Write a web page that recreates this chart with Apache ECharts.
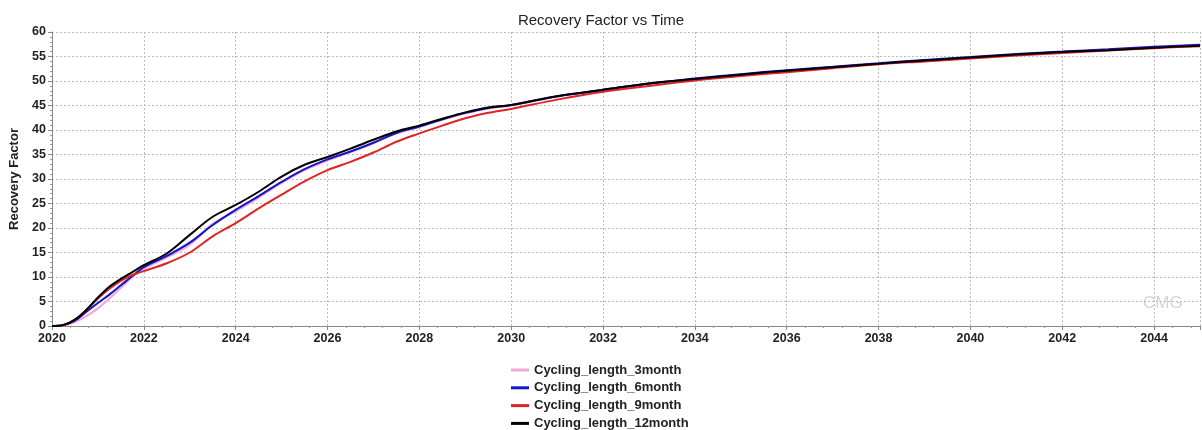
<!DOCTYPE html>
<html>
<head>
<meta charset="utf-8">
<title>Recovery Factor vs Time</title>
<script src="https://cdn.jsdelivr.net/npm/echarts@6/dist/echarts.min.js"></script>
<style>
  html, body { margin: 0; padding: 0; background: #fff; }
  #chart { width: 1202px; height: 430px; }
</style>
</head>
<body>
<div id="chart"></div>
<script>
// time axis (years) shared by all four cases
const years = [
  2020, 2020.25, 2020.5, 2020.75, 2021, 2021.25, 2021.5, 2021.75, 2022,
  2022.5, 2023, 2023.5, 2024, 2024.5, 2025, 2025.5, 2026, 2026.5, 2027, 2027.5,
  2028, 2028.5, 2029, 2029.5, 2030,
  2031, 2032, 2033, 2034, 2035, 2036, 2037, 2038, 2039, 2040, 2041, 2042, 2043, 2044, 2045
]

const rf3month = [
  0, 0.1, 0.8, 2.0, 3.6, 5.6, 7.8, 10.0, 11.7,
  14.0, 16.6, 20.9, 23.4, 26.2, 29.2, 31.8, 33.8, 35.5, 37.3, 39.3,
  40.6, 42.1, 43.4, 44.4, 45.0,
  46.8, 48.1, 49.4, 50.4, 51.3, 52.1, 52.8, 53.5, 54.2, 54.8, 55.4, 55.9, 56.4, 56.9, 57.3
]
const rf6month = [
  0, 0.2, 1.1, 2.9, 4.7, 6.4, 8.3, 10.2, 12.0,
  14.3, 17.0, 20.6, 23.7, 26.5, 29.4, 32.0, 34.0, 35.6, 37.4, 39.4,
  40.7, 42.2, 43.5, 44.5, 45.1,
  46.9, 48.2, 49.5, 50.5, 51.4, 52.2, 52.9, 53.6, 54.3, 54.9, 55.5, 56.0, 56.5, 57.0, 57.4
]
const rf9month = [
  0, 0.2, 1.3, 3.3, 5.6, 7.6, 9.2, 10.4, 11.2,
  12.8, 15.0, 18.3, 21.0, 24.0, 26.8, 29.5, 31.8, 33.5, 35.4, 37.6,
  39.3, 40.9, 42.4, 43.5, 44.3,
  46.2, 47.8, 49.0, 50.1, 51.0, 51.8, 52.6, 53.4, 54.0, 54.6, 55.2, 55.7, 56.2, 56.7, 57.1
]
const rf12month = [
  0, 0.2, 1.3, 3.3, 5.8, 8.0, 9.6, 11.0, 12.4,
  14.8, 18.6, 22.3, 24.7, 27.4, 30.5, 32.9, 34.5, 36.2, 38.0, 39.7,
  40.9, 42.3, 43.6, 44.6, 45.1,
  46.9, 48.2, 49.5, 50.4, 51.3, 52.1, 52.8, 53.5, 54.2, 54.8, 55.4, 55.9, 56.3, 56.8, 57.2
]

const yTicks = { min: 0, max: 60, step: 5 }
const xTicks = { min: 2020, max: 2045, step: 2 }

const cases = [
  { name: 'Cycling_length_3month', values: rf3month, color: '#f3a6d6' },
  { name: 'Cycling_length_6month', values: rf6month, color: '#1414c8' },
  { name: 'Cycling_length_9month', values: rf9month, color: '#e02424' },
  { name: 'Cycling_length_12month', values: rf12month, color: '#000000' }
]

const font = '"Liberation Sans", Arial, sans-serif'
const myChart = echarts.init(document.getElementById('chart'))

const option = {
  backgroundColor: '#fff',
  animation: false,
  title: {
    text: 'Recovery Factor vs Time',
    left: 'center',
    top: 8,
    textStyle: { fontFamily: font, fontSize: 15, fontWeight: 'normal', color: '#222' }
  },
  legend: {
    orient: 'vertical',
    left: 511,
    top: 363,
    height: 80,
    padding: 0,
    itemWidth: 18,
    itemHeight: 3,
    itemGap: 3.8,
    icon: 'rect',
    textStyle: { fontFamily: font, fontSize: 13, fontWeight: 'bold', color: '#222', lineHeight: 14 },
    data: cases.map(c => c.name)
  },
  grid: { left: 52, right: 2, top: 32, bottom: 104, containLabel: false },
  xAxis: {
    type: 'value',
    min: xTicks.min,
    max: xTicks.max,
    interval: xTicks.step,
    axisLine: { show: true, lineStyle: { color: '#888', width: 1 } },
    axisTick: { show: true, inside: false, length: 4, lineStyle: { color: '#888' } },
    minorTick: { show: true, splitNumber: 5, length: 2, lineStyle: { color: '#999' } },
    axisLabel: {
      showMaxLabel: false,
      margin: 6,
      fontFamily: font, fontSize: 12.5, fontWeight: 'bold', color: '#222',
      formatter: v => String(v)
    },
    splitLine: { show: true, lineStyle: { color: '#bdbdbd', type: [2, 2], width: 1 } }
  },
  yAxis: {
    type: 'value',
    name: 'Recovery Factor',
    nameLocation: 'middle',
    nameGap: 30,
    nameRotate: 90,
    nameTextStyle: { fontFamily: font, fontSize: 13, fontWeight: 'bold', color: '#222' },
    min: yTicks.min,
    max: yTicks.max,
    interval: yTicks.step,
    axisLine: { show: true, lineStyle: { color: '#888', width: 1 } },
    axisTick: { show: true, inside: false, length: 4, lineStyle: { color: '#888' } },
    minorTick: { show: true, splitNumber: 5, length: 2, lineStyle: { color: '#999' } },
    axisLabel: { margin: 6, fontFamily: font, fontSize: 12.5, fontWeight: 'bold', color: '#222' },
    splitLine: { show: true, lineStyle: { color: '#bdbdbd', type: [2, 2], width: 1 } }
  },
  graphic: [{
    type: 'text',
    left: 1143,
    top: 295,
    style: { text: 'CMG', fontFamily: font, fontSize: 17, fill: '#d4d4d4' }
  }],
  series: cases.map(c => ({
    name: c.name,
    type: 'line',
    data: years.map((t, i) => [t, c.values[i]]),
    smooth: 0.35,
    showSymbol: false,
    symbol: 'none',
    lineStyle: { color: c.color, width: 2 },
    itemStyle: { color: c.color }
  }))
}

myChart.setOption(option)
</script>
</body>
</html>
